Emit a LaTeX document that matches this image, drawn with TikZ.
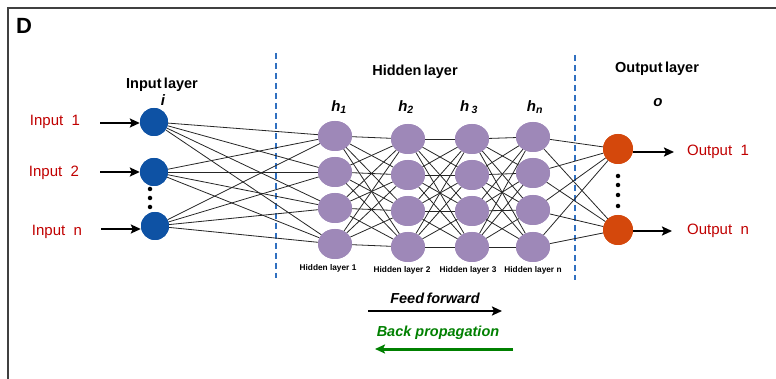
\documentclass[tikz,border=0pt]{standalone}
\usepackage{fontspec}
\setmainfont{Liberation Sans}
\usetikzlibrary{arrows.meta,shapes.geometric}
\definecolor{inblue}{RGB}{14,82,164}
\definecolor{hidpurple}{RGB}{158,136,184}
\definecolor{outred}{RGB}{212,72,12}
\definecolor{lblred}{RGB}{192,0,0}
\definecolor{dashblue}{RGB}{48,112,192}
\definecolor{bpgreen}{RGB}{0,128,0}
\tikzset{
  innode/.style={circle,fill=inblue,minimum size=28pt,inner sep=0pt},
  hidnode/.style={ellipse,fill=hidpurple,minimum width=34pt,minimum height=30pt,inner sep=0pt},
  outnode/.style={circle,fill=outred,minimum size=30pt,inner sep=0pt},
  link/.style={draw=black!85,line width=0.8pt},
  bigarrow/.style={line width=2pt,-{Stealth[length=10pt,width=9pt,inset=2pt]}},
  iolabel/.style={text=lblred,font=\fontsize{15}{17}\selectfont},
  layerlabel/.style={font=\bfseries\fontsize{14.5}{17}\selectfont},
  hlabel/.style={font=\bfseries\itshape\fontsize{15}{17}\selectfont},
  smalllabel/.style={font=\bfseries\fontsize{8.3}{10}\selectfont},
  dotnode/.style={circle,fill=black,minimum size=4.5pt,inner sep=0pt},
  sep/.style={draw=dashblue,line width=1.2pt,dash pattern=on 6pt off 4pt}
}
\begin{document}
\begin{tikzpicture}[x=1pt,y=-1pt]
\useasboundingbox (0,0) rectangle (776,379);
% frame
\draw[line width=2pt,draw=black!75] (8,379) -- (8,8) -- (776,8);
\node[font=\bfseries\fontsize{22}{24}\selectfont] (D) at (24,26) {D};

% separators
\coordinate (s1t) at (276,53); \coordinate (s1b) at (276,278);
\coordinate (s2t) at (575,55); \coordinate (s2b) at (575,280);
\draw[sep] (s1t) -- (s1b);
\draw[sep] (s2t) -- (s2b);

% input layer
\node[innode] (i1) at (154,122) {};
\node[innode] (i2) at (154,172) {};
\node[innode] (i3) at (155,226) {};
\node[dotnode] (id1) at (150,189) {};
\node[dotnode] (id2) at (150,198) {};
\node[dotnode] (id3) at (150,207) {};

% hidden layers
\foreach \c/\x/\ya/\yb/\yc/\yd in {1/335/136/172/208/244, 2/408/139/175/211/247, 3/472/139/175/211/247, 4/533/137/173/210/247}{
  \node[hidnode] (h\c-1) at (\x,\ya) {};
  \node[hidnode] (h\c-2) at (\x,\yb) {};
  \node[hidnode] (h\c-3) at (\x,\yc) {};
  \node[hidnode] (h\c-4) at (\x,\yd) {};
}

% output layer
\node[outnode] (o1) at (618,149) {};
\node[outnode] (o2) at (618,230) {};
\node[dotnode] (od1) at (618,176) {};
\node[dotnode] (od2) at (618,185) {};
\node[dotnode] (od3) at (618,195) {};
\node[dotnode] (od4) at (618,206) {};

% connections
\foreach \a in {1,2,3}{\foreach \b in {1,2,3,4}{\draw[link] (i\a) -- (h1-\b);}}
\foreach \l/\n in {1/2,2/3,3/4}{\foreach \a in {1,2,3,4}{\foreach \b in {1,2,3,4}{\draw[link] (h\l-\a) -- (h\n-\b);}}}
\foreach \a in {1,2,3,4}{\foreach \b in {1,2}{\draw[link] (h4-\a) -- (o\b);}}

% redraw nodes on top
\foreach \a in {1,2,3}{\node[innode] at (i\a) {};}
\foreach \c in {1,2,3,4}{\foreach \r in {1,2,3,4}{\node[hidnode] at (h\c-\r) {};}}
\foreach \a in {1,2}{\node[outnode] at (o\a) {};}

% input labels and arrows
\node[iolabel] (L1) at (55,122) {Input\ \ 1};
\node[iolabel] (L2) at (54,173) {Input\ \ 2};
\node[iolabel] (L3) at (57,232) {Input\ \ n};
\coordinate (a1) at (100,123);
\coordinate (a2) at (100,172);
\coordinate (a3) at (101,229);
\draw[bigarrow] (a1) -- (i1.west |- a1);
\draw[bigarrow] (a2) -- (i2.west |- a2);
\draw[bigarrow] (a3) -- (i3.west |- a3);

% output labels and arrows
\node[iolabel] (R1) at (718,152) {Output\ \ 1};
\node[iolabel] (R2) at (718,231) {Output\ \ n};
\coordinate (b1) at (674,152);
\coordinate (b2) at (672,231);
\draw[bigarrow] (o1.east |- b1) -- (b1);
\draw[bigarrow] (o2.east |- b2) -- (b2);

% layer titles
\node[layerlabel] (tin) at (162,85) {Input\,layer};
\node[hlabel] (ti) at (163,100) {i};
\node[layerlabel] (thid) at (415,72) {Hidden\,layer};
\node[layerlabel] (tout) at (657,69) {Output\,layer};
\node[hlabel] (to) at (658,103) {o};
\node[hlabel] (th1) at (339,107) {h\textsubscript{1}};
\node[hlabel] (th2) at (406,107) {h\textsubscript{2}};
\node[hlabel] (th3) at (469,107) {h\,\textsubscript{3}};
\node[hlabel] (th4) at (535,107) {h\textsubscript{n}};

\node[smalllabel] (hl1) at (328,268) {Hidden layer 1};
\node[smalllabel] (hl2) at (402,270) {Hidden layer 2};
\node[smalllabel] (hl3) at (468,270) {Hidden layer 3};
\node[smalllabel] (hl4) at (533,270) {Hidden layer n};

% feed forward / back propagation
\node[font=\bfseries\itshape\fontsize{14.5}{17}\selectfont] (ff) at (435,298) {Feed\,forward};
\coordinate (ffs) at (368,311); \coordinate (ffe) at (502,311);
\draw[bigarrow,line width=2.4pt] (ffs) -- (ffe);
\node[font=\bfseries\itshape\fontsize{14.5}{17}\selectfont,text=bpgreen] (bp) at (438,333) {Back propagation};
\coordinate (bps) at (513,349); \coordinate (bpe) at (375,349);
\draw[bigarrow,draw=bpgreen,fill=bpgreen,line width=3pt] (bps) -- (bpe);
\end{tikzpicture}
\end{document}
